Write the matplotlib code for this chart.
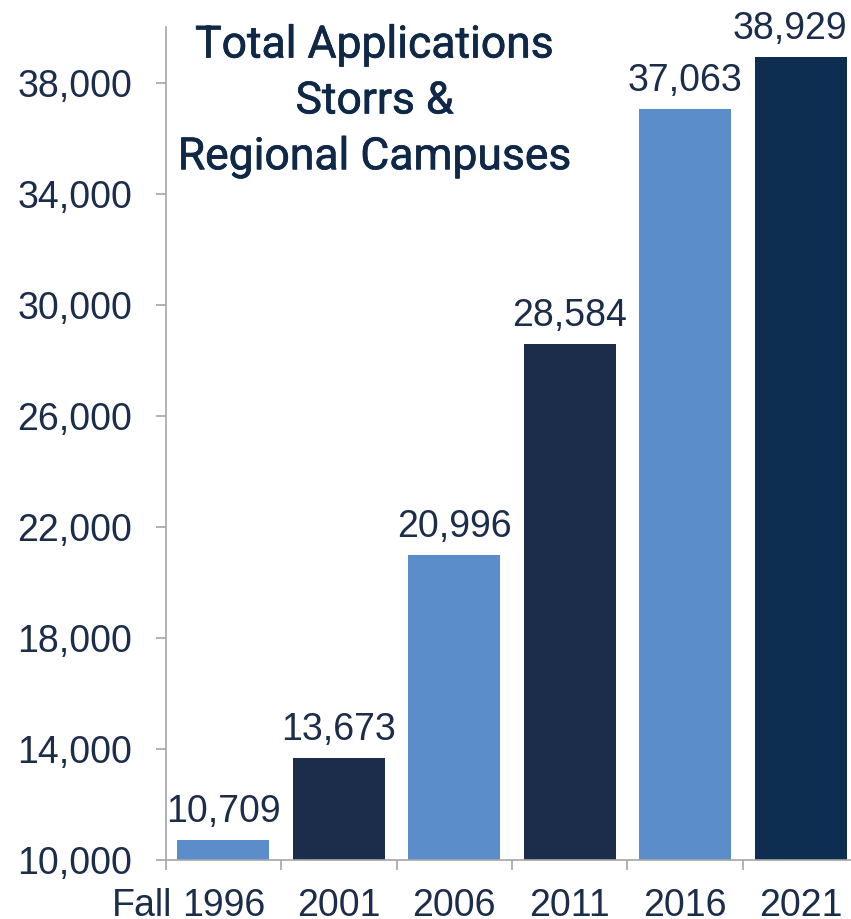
from matplotlib import pyplot as plt
from matplotlib import patheffects

#Chart data
years = ['1996', '2001', '2006', '2011', '2016', '2021']
applications = [10709, 13673, 20996, 28584, 37063, 38929]
bar_colors = ['#5b8dca', '#1b2d4a', '#5b8dca', '#1b2d4a', '#5b8dca', '#0d2e50']
y_ticks = [10000, 14000, 18000, 22000, 26000, 30000, 34000, 38000]
title_text = 'Total Applications\nStorrs &\nRegional Campuses'

text_color = '#1b2d4a'
title_color = '#0f2847'
axis_color = '#a6a6a6'
plt.rcParams['font.family'] = ['Liberation Sans', 'DejaVu Sans']

fig = plt.figure(figsize=(8.51, 9.19), dpi=100)
ax = fig.add_axes([0.1945, 0.0642, 0.8143, 0.9064])

x = list(range(len(years)))
bars = ax.bar(x, applications, width=0.8, color=bar_colors, zorder=2)

#Value labels sitting above every bar; the last one is nudged left so it stays inside the picture
for xi, value in zip(x, applications):
        shift = -8 if xi == len(years) - 1 else 0
        ax.annotate(f'{value:,}', xy=(xi, value), xytext=(shift, 13), textcoords='offset points',
                    ha='center', va='baseline', fontsize=27, color=text_color)

ax.set_xlim(-0.5, len(years) - 0.5)
ax.set_ylim(10000, 40000)

ax.set_yticks(y_ticks)
ax.set_yticklabels([f'{t:,}' for t in y_ticks])
ax.set_xticks([i + 0.5 for i in range(-1, len(years))], minor=False)
ax.set_xticklabels([''] * (len(years) + 1))
ax.set_xticks(x, minor=True)
ax.set_xticklabels(years, minor=True)

ax.tick_params(axis='y', length=7, width=1.2, color=axis_color, pad=17, labelsize=27, labelcolor=text_color)
ax.tick_params(axis='x', which='major', length=7, width=1.2, color=axis_color)
ax.tick_params(axis='x', which='minor', length=0, pad=20, labelsize=27, labelcolor=text_color)

for side in ['top', 'right']:
        ax.spines[side].set_visible(False)
for side in ['left', 'bottom']:
        ax.spines[side].set_color(axis_color)
        ax.spines[side].set_linewidth(1.2)

#"Fall" prefix placed just left of the first year label
first_label = ax.get_xticklabels(minor=True)[0]
ax.annotate('Fall', xy=(0, 0), xycoords=first_label, xytext=(-7, 0), textcoords='offset points',
            ha='right', va='bottom', fontsize=27, color=text_color)

#Title block in the upper left of the plot area, regular weight thickened a little with a stroke
ax.text(0.302, 1.003, title_text, transform=ax.transAxes, ha='center', va='top',
        fontsize=32, fontfamily='Roboto', color=title_color, linespacing=1.42,
        path_effects=[patheffects.withStroke(linewidth=0.5, foreground=title_color)])

plt.savefig('out.png', dpi=100)
